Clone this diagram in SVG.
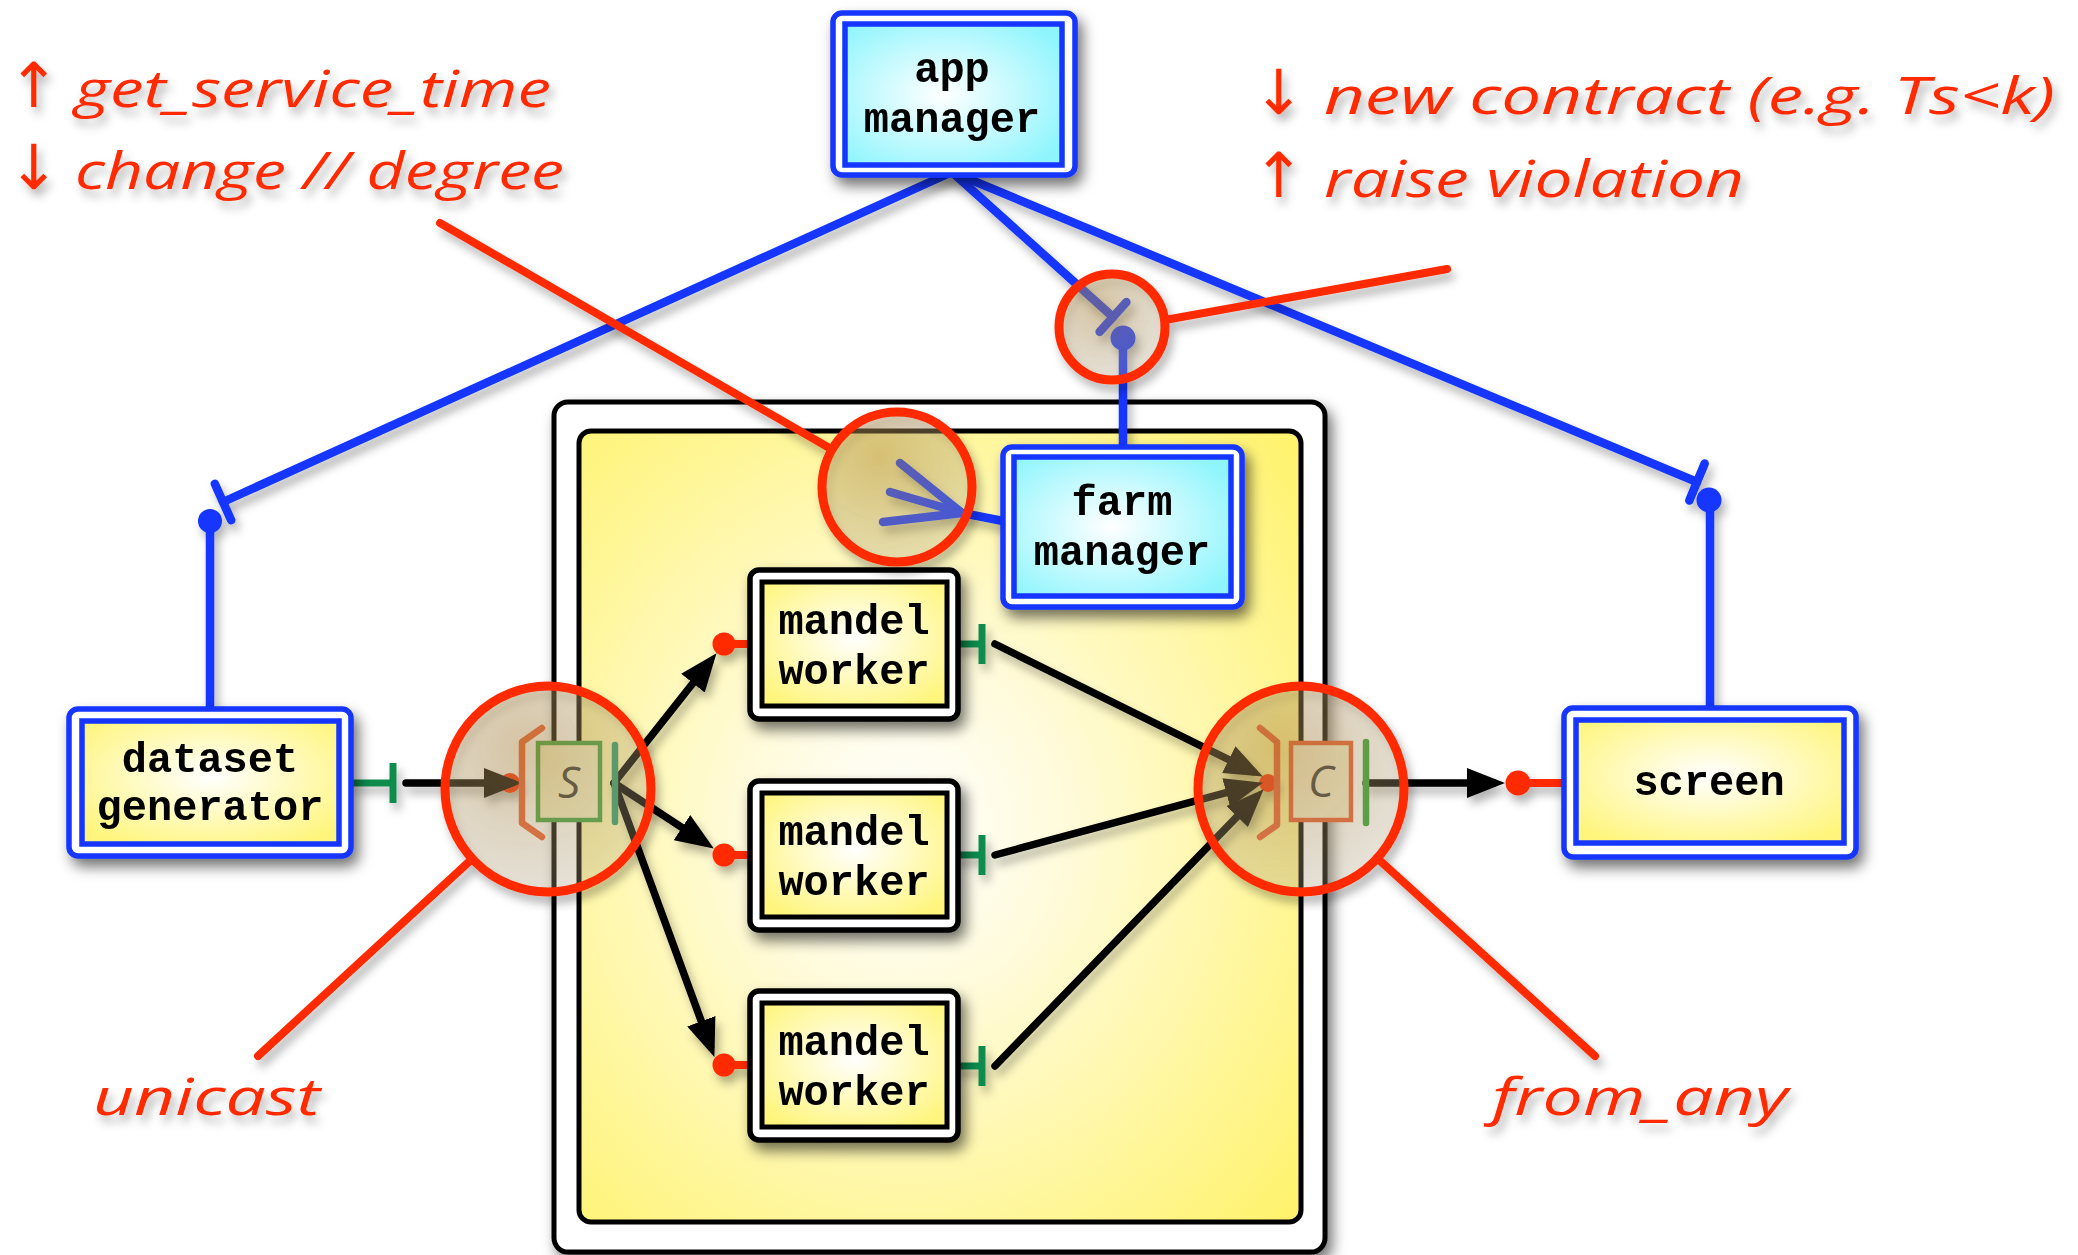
<svg xmlns="http://www.w3.org/2000/svg" width="2078" height="1255" viewBox="0 0 2078 1255">
<style>
.node{font-family:"Liberation Mono","Courier New",monospace;font-weight:bold;font-size:42px;text-anchor:middle;fill:#000}
.hand{font-family:"Open Sans","DejaVu Sans",sans-serif;font-style:italic;font-size:52px;fill:#ff2a00}
.arr{font-family:"DejaVu Sans",sans-serif;font-style:normal;font-size:62px}
.sc{font-family:"Open Sans","DejaVu Sans",sans-serif;font-style:italic;font-size:44px;fill:#333;text-anchor:middle}
.bout{fill:#fff;stroke:#1236ff;stroke-width:5.5}
.bin{stroke:#1236ff;stroke-width:5.5}
.wout{fill:#fff;stroke:#000;stroke-width:5.5}
.win{fill:url(#gYel);stroke:#000;stroke-width:5}
.blue{stroke:#1236ff;stroke-width:8.5;fill:none;stroke-linecap:round}
.blk{stroke:#000;stroke-width:7.5;fill:none;stroke-linecap:round;marker-end:url(#ah)}
.grn{stroke:#0e8c4e;stroke-width:7;fill:none}
.red{stroke:#ff2a00;stroke-width:8;fill:none;stroke-linecap:round}
.dot{fill:#ff2a00}
.lens{fill:url(#gLens);stroke:#ff2a00;stroke-width:9}
.brk{stroke:#ec5a2c;stroke-width:6.5;fill:none;stroke-linecap:round;stroke-linejoin:round}
</style>
<defs>
  <radialGradient id="gCyan" cx="0.45" cy="0.5" r="0.65">
    <stop offset="0" stop-color="#ffffff"/>
    <stop offset="1" stop-color="#8ef5fd"/>
  </radialGradient>
  <radialGradient id="gYel" cx="0.5" cy="0.45" r="0.65">
    <stop offset="0" stop-color="#ffffff"/>
    <stop offset="1" stop-color="#fff57c"/>
  </radialGradient>
  <radialGradient id="gFarm" cx="0.45" cy="0.5" r="0.72">
    <stop offset="0" stop-color="#ffffff"/>
    <stop offset="0.3" stop-color="#fffbdc"/>
    <stop offset="1" stop-color="#fff36e"/>
  </radialGradient>
  <radialGradient id="gLens" cx="0.38" cy="0.3" r="0.75">
    <stop offset="0" stop-color="#b89048" stop-opacity="0.42"/>
    <stop offset="1" stop-color="#c0b290" stop-opacity="0.25"/>
  </radialGradient>
  <filter id="sh" filterUnits="userSpaceOnUse" x="0" y="0" width="2078" height="1255">
    <feDropShadow dx="5" dy="8" stdDeviation="7" flood-color="#000" flood-opacity="0.55"/>
  </filter>
  <filter id="shl" filterUnits="userSpaceOnUse" x="0" y="0" width="2078" height="1255">
    <feDropShadow dx="4" dy="7" stdDeviation="5" flood-color="#000" flood-opacity="0.3"/>
  </filter>
  <marker id="ah" markerWidth="38" markerHeight="30" refX="27" refY="15" orient="auto" markerUnits="userSpaceOnUse">
    <path d="M0,0 L38,15 L0,30 Z" fill="#000"/>
  </marker>
</defs>
<rect width="2078" height="1255" fill="#fff"/>

<g id="farm">
  <rect x="554" y="402" width="771" height="850" rx="14" fill="#fff" stroke="#000" stroke-width="5" filter="url(#sh)"/>
  <rect x="579" y="431" width="722" height="791" rx="12" fill="url(#gFarm)" stroke="#000" stroke-width="5"/>
</g>

<g id="connectors" filter="url(#shl)">
  <!-- blue control links -->
  <line class="blue" x1="952" y1="172" x2="223" y2="502"/>
  <line class="blue" x1="214.8" y1="483.8" x2="231.2" y2="520.2" stroke-linecap="butt"/>
  <line class="blue" x1="210" y1="521" x2="210" y2="709"/>
  <circle cx="210" cy="521" r="12" fill="#1236ff"/>

  <line class="blue" x1="952" y1="172" x2="1697" y2="482"/>
  <line class="blue" x1="1704.7" y1="463.5" x2="1689.3" y2="500.5" stroke-linecap="butt"/>
  <line class="blue" x1="1710" y1="500" x2="1710" y2="708"/>
  <circle cx="1709" cy="500" r="12.5" fill="#1236ff"/>

  <line class="blue" x1="952" y1="172" x2="1113" y2="317"/>
  <line class="blue" x1="1126.4" y1="302.1" x2="1099.6" y2="331.9" stroke-linecap="butt"/>
  <line class="blue" x1="1123" y1="338" x2="1123" y2="447"/>
  <circle cx="1123" cy="338" r="12.5" fill="#1236ff"/>

  <polyline class="blue" points="1003,521 962,513 900,463"/>
  <line class="blue" x1="962" y1="513" x2="890" y2="492"/>
  <line class="blue" x1="962" y1="513" x2="883" y2="522"/>

  <!-- data stream -->
  <line class="grn" x1="351" y1="783" x2="393" y2="783"/>
  <line class="grn" x1="393" y1="763" x2="393" y2="803"/>
  <circle class="dot" cx="510" cy="783" r="10"/>
  <line class="blk" x1="406" y1="783" x2="511" y2="783"/>

  <line class="blk" x1="614" y1="783" x2="709.7" y2="662"/>
  <line class="blk" x1="614" y1="783" x2="704.6" y2="842.4"/>
  <line class="blk" x1="614" y1="783" x2="710.6" y2="1046.6"/>

  <line class="red" x1="724" y1="644" x2="756" y2="644"/>
  <circle class="dot" cx="724" cy="644" r="11.5"/>
  <line class="red" x1="724" y1="855" x2="756" y2="855"/>
  <circle class="dot" cx="724" cy="855" r="11.5"/>
  <line class="red" x1="724" y1="1065" x2="756" y2="1065"/>
  <circle class="dot" cx="724" cy="1065" r="11.5"/>

  <path class="grn" d="M955,644 H982 M982,624 V664 M955,855 H982 M982,835 V875 M955,1066 H982 M982,1046 V1086"/>

  <circle class="dot" cx="1268" cy="783" r="9"/>
  <line class="blk" x1="995" y1="644" x2="1253" y2="771.6"/>
  <line class="blk" x1="995" y1="855" x2="1252.3" y2="785.6"/>
  <line class="blk" x1="995" y1="1066" x2="1256" y2="797.2"/>

  <line class="blk" x1="1366" y1="783" x2="1494" y2="783"/>
  <line class="red" x1="1518" y1="783" x2="1565" y2="783"/>
  <circle class="dot" cx="1518" cy="783" r="12.5"/>
</g>

<g id="app-manager" filter="url(#sh)">
  <rect class="bout" x="833" y="13" width="242" height="162" rx="9"/>
  <rect class="bin" x="845" y="24" width="217" height="141" fill="url(#gCyan)"/>
  <text class="node" x="952" y="82">app</text>
  <text class="node" x="952" y="132">manager</text>
</g>

<g id="farm-manager" filter="url(#sh)">
  <rect class="bout" x="1003" y="447" width="239" height="160" rx="9"/>
  <rect class="bin" x="1014" y="457" width="217" height="139" fill="url(#gCyan)"/>
  <text class="node" x="1122" y="515">farm</text>
  <text class="node" x="1122" y="565">manager</text>
</g>

<g id="dataset-generator" filter="url(#sh)">
  <rect class="bout" x="69" y="709" width="282" height="147" rx="9"/>
  <rect class="bin" x="82" y="721" width="257" height="123" fill="url(#gYel)"/>
  <text class="node" x="210" y="772">dataset</text>
  <text class="node" x="210" y="820">generator</text>
</g>

<g id="screen" filter="url(#sh)">
  <rect class="bout" x="1564" y="708" width="292" height="149" rx="9"/>
  <rect class="bin" x="1576" y="720" width="268" height="123" fill="url(#gYel)"/>
  <text class="node" x="1709" y="795">screen</text>
</g>

<g id="worker1" filter="url(#sh)">
  <rect class="wout" x="750" y="570" width="208" height="149" rx="9"/>
  <rect class="win" x="762" y="582" width="185" height="124"/>
  <text class="node" x="854" y="634">mandel</text>
  <text class="node" x="854" y="684">worker</text>
</g>
<g id="worker2" filter="url(#sh)">
  <rect class="wout" x="750" y="781" width="208" height="149" rx="9"/>
  <rect class="win" x="762" y="793" width="185" height="124"/>
  <text class="node" x="854" y="845">mandel</text>
  <text class="node" x="854" y="895">worker</text>
</g>
<g id="worker3" filter="url(#sh)">
  <rect class="wout" x="750" y="991" width="208" height="149" rx="9"/>
  <rect class="win" x="762" y="1003" width="185" height="124"/>
  <text class="node" x="854" y="1055">mandel</text>
  <text class="node" x="854" y="1105">worker</text>
</g>

<g id="emitter">
  <polyline class="brk" points="542,728 522,742 522,823 542,837"/>
  <rect x="538" y="743" width="62" height="77" fill="#f4f0c4" stroke="#3ca03c" stroke-width="4.5"/>
  <text class="sc" x="569" y="798">S</text>
  <line x1="615" y1="745" x2="615" y2="822" stroke="#2a9a6a" stroke-width="6.5" stroke-linecap="round"/>
</g>

<g id="collector">
  <polyline class="brk" points="1260,728 1277,742 1277,825 1260,837"/>
  <rect x="1291" y="743" width="60" height="77" fill="#f6eecc" stroke="#e8582a" stroke-width="4.5"/>
  <text class="sc" x="1321" y="797">C</text>
  <line x1="1366" y1="742" x2="1366" y2="823" stroke="#2ea02e" stroke-width="6.5" stroke-linecap="round"/>
</g>

<g id="annotations" filter="url(#shl)">
  <circle class="lens" cx="548" cy="789" r="103"/>
  <circle class="lens" cx="1301" cy="789" r="103"/>
  <circle class="lens" cx="897" cy="487" r="75"/>
  <circle class="lens" cx="1112" cy="327" r="53"/>
  <line class="red" x1="440" y1="223" x2="832" y2="449.5"/>
  <line class="red" x1="1165" y1="320" x2="1447" y2="269"/>
  <line class="red" x1="472" y1="859" x2="258" y2="1056"/>
  <line class="red" x1="1377" y1="858" x2="1595" y2="1056"/>

  <text class="hand" y="107"><tspan class="arr" x="34" text-anchor="middle">↑</tspan><tspan x="75" textLength="476" lengthAdjust="spacingAndGlyphs">get_service_time</tspan></text>
  <text class="hand" y="189"><tspan class="arr" x="34" text-anchor="middle">↓</tspan><tspan x="75" textLength="489" lengthAdjust="spacingAndGlyphs">change // degree</tspan></text>
  <text class="hand" y="114"><tspan class="arr" x="1279" text-anchor="middle">↓</tspan><tspan x="1324" textLength="731" lengthAdjust="spacingAndGlyphs">new contract (e.g. Ts&lt;k)</tspan></text>
  <text class="hand" y="197"><tspan class="arr" x="1279" text-anchor="middle">↑</tspan><tspan x="1324" textLength="420" lengthAdjust="spacingAndGlyphs">raise violation</tspan></text>
  <text class="hand" x="93" y="1115" textLength="227" lengthAdjust="spacingAndGlyphs">unicast</text>
  <text class="hand" x="1492" y="1115" textLength="296" lengthAdjust="spacingAndGlyphs">from_any</text>
</g>
</svg>
